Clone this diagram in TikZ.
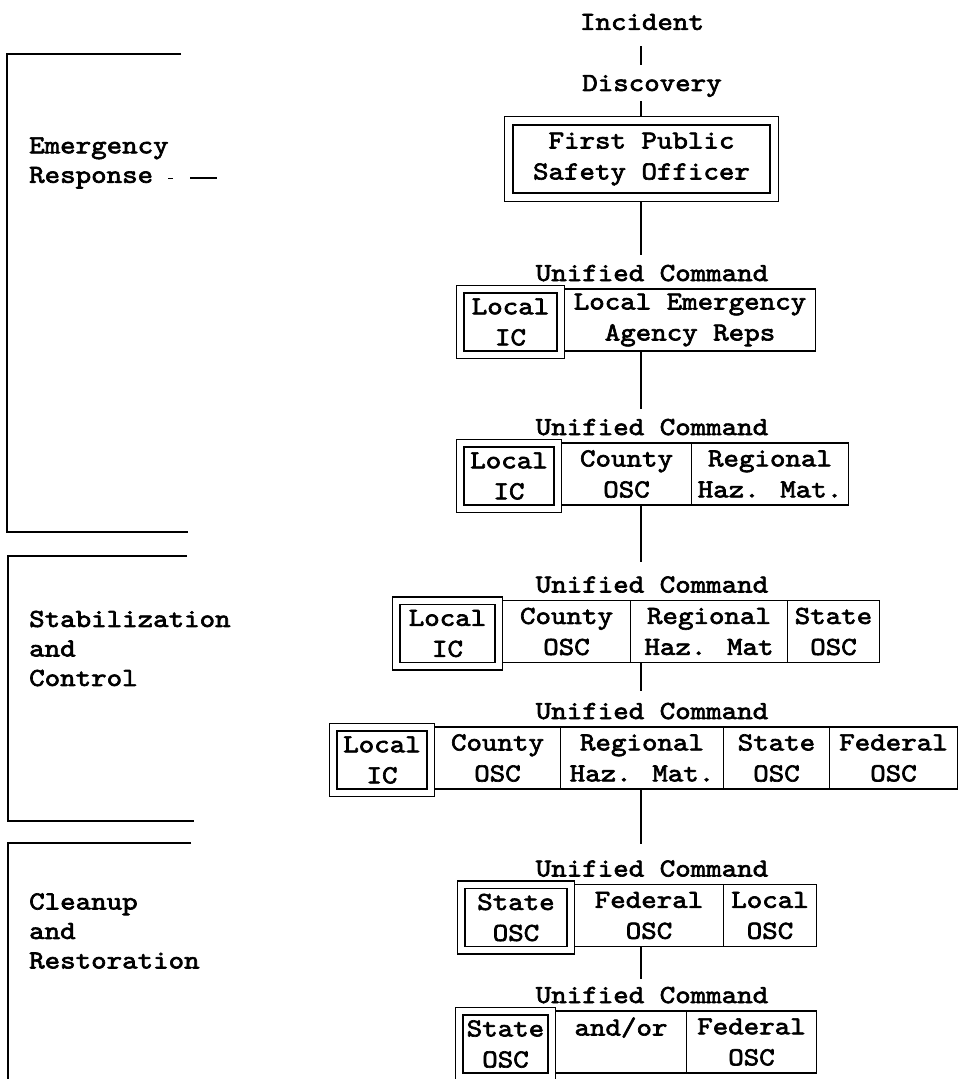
\documentclass[tikz,border=0pt]{standalone}
\usepackage{fontspec}
\usepackage{tikz}
\usetikzlibrary{positioning, fit}
\newfontfamily\typewriter{lmmono10-regular.otf}[FakeBold=2.5, FakeStretch=1.135]

\begin{document}
\begin{tikzpicture}[
    x=1pt, y=-1pt,
    every node/.style={font=\typewriter\fontsize{26}{31}\selectfont},
    textlabel/.style={inner sep=4pt, align=center},
    cell/.style={draw, line width=1.6pt, outer sep=0pt, inner sep=0pt, minimum height=62pt, align=center},
    lead/.style={cell, minimum height=58pt},
    outerbox/.style={draw, line width=1.6pt, outer sep=0pt, inner sep=7.5pt},
    phase/.style={anchor=west, inner sep=0pt, align=left, font=\typewriter\fontsize{26}{29.5}\selectfont},
    link/.style={line width=1.6pt},
    bracket/.style={line width=1.6pt}
  ]
    \useasboundingbox (0,0) rectangle (964,1079);
    \coordinate (axis) at (641,0);

    \node[textlabel] (inc) at (642,22) {Incident};
    \node[textlabel] (disc) at (652,86) {Discovery};
    \node[cell, minimum width=257pt, minimum height=68pt] (fpso) at (641.5,159) {First Public\\Safety Officer};
    \node[outerbox, inner sep=8.5pt, fit=(fpso)] (fpsof) {};

    \coordinate (row1) at (0,320);
    \node[textlabel, anchor=base] (uc1) at (652,281) {Unified Command};
    \node[lead, minimum width=93pt] (r1a) at (510.5,322) {Local\\IC};
    \node[outerbox, fit=(r1a)] (r1f) {};
    \node[cell, minimum width=251pt, anchor=west] (r1b) at (r1f.east |- row1) {Local Emergency\\Agency Reps};

    \coordinate (row2) at (0,474);
    \node[textlabel, anchor=base] (uc2) at (652,435) {Unified Command};
    \node[lead, minimum width=90pt] (r2a) at (509,476) {Local\\IC};
    \node[outerbox, fit=(r2a)] (r2f) {};
    \node[cell, minimum width=130pt, anchor=west] (r2b) at (r2f.east |- row2) {County\\OSC};
    \node[cell, minimum width=157pt, right=0pt of r2b] (r2c) {Regional\\Haz. Mat.};

    \coordinate (row3) at (0,631.5);
    \node[textlabel, anchor=base] (uc3) at (652,592.5) {Unified Command};
    \node[lead, minimum width=95pt] (r3a) at (447.5,633.5) {Local\\IC};
    \node[outerbox, fit=(r3a)] (r3f) {};
    \node[cell, minimum width=128pt, anchor=west] (r3b) at (r3f.east |- row3) {County\\OSC};
    \node[cell, minimum width=157pt, right=0pt of r3b] (r3c) {Regional\\Haz. Mat};
    \node[cell, minimum width=92pt, right=0pt of r3c] (r3d) {State\\OSC};

    \coordinate (row4) at (0,758);
    \node[textlabel, anchor=base] (uc4) at (652,719) {Unified Command};
    \node[lead, minimum width=90pt] (r4a) at (382,760) {Local\\IC};
    \node[outerbox, fit=(r4a)] (r4f) {};
    \node[cell, minimum width=126pt, anchor=west] (r4b) at (r4f.east |- row4) {County\\OSC};
    \node[cell, minimum width=163pt, right=0pt of r4b] (r4c) {Regional\\Haz. Mat.};
    \node[cell, minimum width=106pt, right=0pt of r4c] (r4d) {State\\OSC};
    \node[cell, minimum width=128pt, right=0pt of r4d] (r4e) {Federal\\OSC};

    \coordinate (row5) at (0,915.5);
    \node[textlabel, anchor=base] (uc5) at (652,876.5) {Unified Command};
    \node[lead, minimum width=102pt] (r5a) at (516,917.5) {State\\OSC};
    \node[outerbox, fit=(r5a)] (r5f) {};
    \node[cell, minimum width=149pt, anchor=west] (r5b) at (r5f.east |- row5) {Federal\\OSC};
    \node[cell, minimum width=93pt, right=0pt of r5b] (r5c) {Local\\OSC};

    \coordinate (row6) at (0,1042);
    \node[textlabel, anchor=base] (uc6) at (652,1003) {Unified Command};
    \node[lead, minimum width=85pt] (r6a) at (505.5,1044) {State\\OSC};
    \node[outerbox, fit=(r6a)] (r6f) {};
    \node[cell, minimum width=131pt, anchor=west] (r6b) at (r6f.east |- row6) {and/or\\~};
    \node[cell, minimum width=130pt, right=0pt of r6b] (r6c) {Federal\\OSC};

    \draw[link, shorten <=12pt, shorten >=6pt] (inc.south -| axis) -- (disc.north -| axis);
    \draw[link] (disc.south -| axis) -- (fpsof.north -| axis);
    \draw[link, shorten >=6pt] (fpsof.south -| axis) -- (uc1.north -| axis);
    \draw[link, shorten >=6pt] (r1b.south -| axis) -- (uc2.north -| axis);
    \draw[link, shorten >=10pt] (r2b.south -| axis) -- (uc3.north -| axis);
    \draw[link, shorten >=8pt] (r3c.south -| axis) -- (uc4.north -| axis);
    \draw[link, shorten >=12pt] (r4c.south -| axis) -- (uc5.north -| axis);
    \draw[link, shorten >=4pt] (r5b.south -| axis) -- (uc6.north -| axis);

    \draw[bracket] (181,54) -| (7,532) -- (188,532);
    \draw[bracket] (187,556) -| (8,821) -- (194,821);
    \draw[bracket] (191,843) -| (8,1079);

    \node[phase] (er) at (29,163) {Emergency\\Response};
    \draw[line width=1pt] (168,178) -- (173,178);
    \draw[line width=1.2pt] (190,178) -- (217,178);
    \node[phase] (sc) at (29,648.5) {Stabilization\\and\\Control};
    \node[phase] (cr) at (29,931) {Cleanup\\and\\Restoration};
  \end{tikzpicture}
\end{document}
